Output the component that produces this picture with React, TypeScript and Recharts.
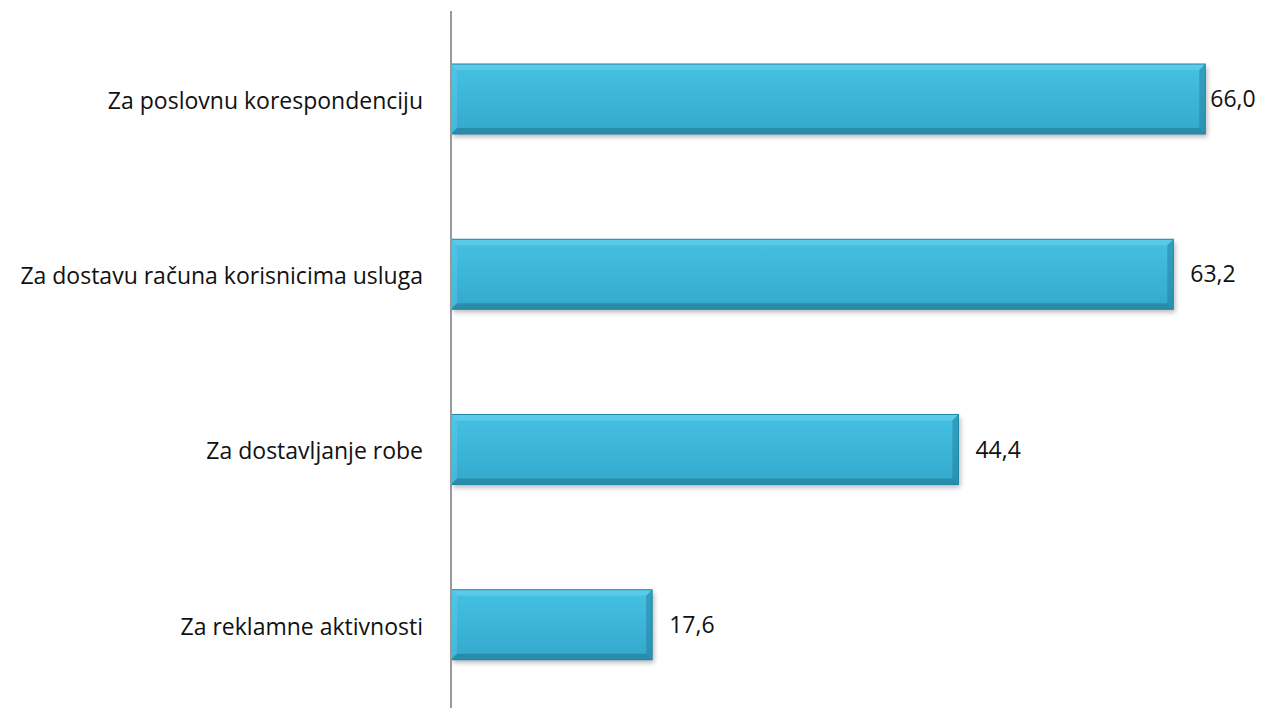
import React from 'react';
import { BarChart, Bar, XAxis, YAxis, LabelList } from 'recharts';

const categories = [
  'Za poslovnu korespondenciju',
  'Za dostavu računa korisnicima usluga',
  'Za dostavljanje robe',
  'Za reklamne aktivnosti',
];
const values = [66.0, 63.2, 44.4, 17.6];

const data = categories.map((name, i) => ({ name, value: values[i] }));

const FONT = '"Open Sans", Lato, sans-serif';
const CHART_W = 1263;

const BevelBar = (props: any) => {
  const { x, y, width, height } = props;
  if (!width || width <= 0) return null;
  const b = 6;
  const w = width;
  const h = height;
  return (
    <g>
      <rect x={x + 2} y={y + 3} width={w} height={h} fill="#000" opacity={0.28} filter="url(#barShadow)" />
      <rect x={x} y={y} width={w} height={h} fill="url(#barGrad)" />
      <polygon points={`${x},${y} ${x + w},${y} ${x + w - b},${y + b} ${x + b},${y + b}`} fill="#6fd6f0" opacity={0.5} />
      <polygon points={`${x},${y} ${x + b},${y + b} ${x + b},${y + h - b} ${x},${y + h}`} fill="#5fd0ee" opacity={0.4} />
      <polygon points={`${x + w},${y} ${x + w},${y + h} ${x + w - b},${y + h - b} ${x + w - b},${y + b}`} fill="#1f7894" opacity={0.45} />
      <polygon points={`${x},${y + h} ${x + w},${y + h} ${x + w - b},${y + h - b} ${x + b},${y + h - b}`} fill="#1d6f88" opacity={0.5} />
      <rect x={x} y={y} width={w} height={h} fill="none" stroke="#1e86a6" strokeWidth={1} />
    </g>
  );
};

const fmt = (v: any) => Number(v).toFixed(1).replace('.', ',');

const ValueLabel = (props: any) => {
  const { x, y, width, height, value } = props;
  const end = x + width;
  const room = CHART_W - end;
  const tx = room > 70 ? end + 17 : end + 5;
  return (
    <text
      x={tx}
      y={y + height / 2 + 2}
      dominantBaseline="middle"
      fill="#111"
      fontSize={23}
      fontFamily={FONT}
    >
      {fmt(value)}
    </text>
  );
};

export default function App() {
  return (
    <div style={{ position: 'absolute', left: 0, top: 0, width: CHART_W, height: 708, overflow: 'hidden', background: '#fff' }}>
      <BarChart
        width={CHART_W}
        height={712}
        data={data}
        layout="vertical"
        margin={{ top: 11, right: 12, bottom: 0, left: 0 }}
      >
        <defs>
          <linearGradient id="barGrad" x1="0" y1="0" x2="0" y2="1">
            <stop offset="0%" stopColor="#45c0e2" />
            <stop offset="50%" stopColor="#3cb5d9" />
            <stop offset="100%" stopColor="#33a8cb" />
          </linearGradient>
          <filter id="barShadow" x="-10%" y="-20%" width="120%" height="150%">
            <feGaussianBlur stdDeviation="2.5" />
          </filter>
        </defs>
        <XAxis type="number" domain={[0, 70]} hide />
        <YAxis
          type="category"
          dataKey="name"
          width={451}
          tickLine={false}
          tickSize={0}
          tickMargin={28}
          axisLine={{ stroke: '#999999', strokeWidth: 2 }}
          tick={{ fill: '#111', fontSize: 23, fontFamily: FONT, dy: 2 }}
        />
        <Bar dataKey="value" barSize={70} shape={<BevelBar />} isAnimationActive={false}>
          <LabelList dataKey="value" content={<ValueLabel />} />
        </Bar>
      </BarChart>
    </div>
  );
}
